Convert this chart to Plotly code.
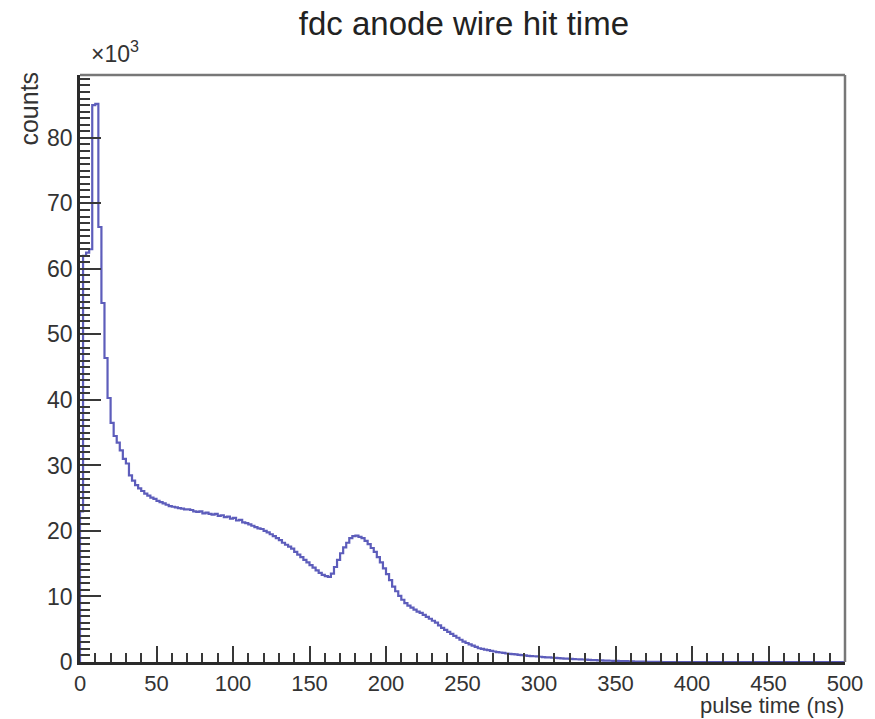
import plotly.graph_objects as go

# bin edges: 2 ns bins from 0 to 500 ns
bin_width = 2
n_bins = 250
bin_edges = [i * bin_width for i in range(n_bins + 1)]

# counts in units of 10^3, one value per 2 ns bin
counts_k = [
    23.0, 62.0, 62.5, 63.0, 85.0, 85.2, 66.4, 54.8, 46.4, 40.3,   # 0-20
    36.5, 34.5, 33.5, 32.3, 31.0, 30.3, 28.5, 27.7, 27.0, 26.5,   # 20-40
    26.1, 25.7, 25.4, 25.1, 24.9, 24.6, 24.4, 24.2, 24.0, 23.8,   # 40-60
    23.7, 23.6, 23.5, 23.4, 23.3, 23.3, 23.2, 23.0, 22.9, 23.0,   # 60-80
    22.7, 22.8, 22.6, 22.5, 22.6, 22.3, 22.4, 22.1, 22.2, 21.9,   # 80-100
    22.0, 21.6, 21.7, 21.3, 21.2, 21.0, 20.8, 20.6, 20.4, 20.3,   # 100-120
    20.0, 19.8, 19.5, 19.2, 18.9, 18.6, 18.2, 17.9, 17.6, 17.3,   # 120-140
    16.8, 16.4, 16.0, 15.6, 15.2, 14.8, 14.4, 14.0, 13.6, 13.3,   # 140-160
    13.1, 13.0, 13.5, 14.5, 15.6, 16.6, 17.5, 18.2, 18.9, 19.2,   # 160-180
    19.3, 19.1, 18.9, 18.5, 18.0, 17.4, 16.8, 16.0, 15.2, 14.3,   # 180-200
    13.4, 12.5, 11.5, 10.8, 10.1, 9.5, 9.0, 8.6, 8.3, 8.0,        # 200-220
    7.7, 7.5, 7.2, 6.9, 6.6, 6.3, 6.0, 5.6, 5.2, 4.9,             # 220-240
    4.6, 4.3, 4.0, 3.7, 3.4, 3.1, 2.9, 2.7, 2.5, 2.3,             # 240-260
    2.1, 2.0, 1.9, 1.8, 1.7, 1.6, 1.5, 1.45, 1.4, 1.3,            # 260-280
    1.25, 1.2, 1.15, 1.1, 1.05, 1.0, 0.95, 0.9, 0.88, 0.85,       # 280-300
    0.8, 0.75, 0.72, 0.7, 0.65, 0.62, 0.6, 0.55, 0.52, 0.5,       # 300-320
    0.48, 0.45, 0.42, 0.4, 0.38, 0.35, 0.33, 0.3, 0.28, 0.26,     # 320-340
    0.24, 0.22, 0.2, 0.19, 0.18, 0.16, 0.15, 0.14, 0.12, 0.1,     # 340-360
    0.09, 0.08, 0.07, 0.06, 0.05, 0.04, 0.03, 0.02, 0.01, 0.01,   # 360-380
    0, 0, 0, 0, 0, 0, 0, 0, 0, 0,                                 # 380-400
    0, 0, 0, 0, 0, 0, 0, 0, 0, 0,                                 # 400-420
    0, 0, 0, 0, 0, 0, 0, 0, 0, 0,                                 # 420-440
    0, 0, 0, 0, 0, 0, 0, 0, 0, 0,                                 # 440-460
    0, 0, 0, 0, 0, 0, 0, 0, 0, 0,                                 # 460-480
    0, 0, 0, 0, 0, 0, 0, 0, 0, 0,                                 # 480-500
]

x_ticks = [0, 50, 100, 150, 200, 250, 300, 350, 400, 450, 500]
y_ticks = [0, 10, 20, 30, 40, 50, 60, 70, 80]

title_text = "fdc anode wire hit time"
x_title = "pulse time (ns)"
y_title = "counts"

# step outline: start at zero on the first edge, end on the last edge
xs = [bin_edges[0]] + bin_edges
ys = [0] + counts_k + [counts_k[-1]]

FONT = "Liberation Sans, Arial, sans-serif"
LINE_COL = "#5d5dbb"
TXT = "#333333"
TICK = "#383838"

fig = go.Figure()
fig.add_trace(go.Scatter(
    x=xs, y=ys, mode="lines",
    line=dict(shape="hv", color=LINE_COL, width=2.2),
    hoverinfo="skip", showlegend=False,
))

fig.update_layout(
    width=875, height=719,
    margin=dict(l=80, r=27, t=75, b=57),
    paper_bgcolor="white", plot_bgcolor="white",
    font=dict(family=FONT, color=TXT, size=22),
    title=dict(text=title_text, x=0.5302, xanchor="center", y=0.968, yanchor="middle",
               font=dict(size=33, color="#222222", family=FONT)),
    showlegend=False,
)

fig.update_xaxes(
    range=[0, 500], tickvals=x_ticks, ticktext=[str(v) for v in x_ticks],
    ticks="inside", ticklen=16, tickwidth=2, tickcolor=TICK,
    minor=dict(dtick=10, tick0=0, ticks="inside", ticklen=9, tickwidth=2, tickcolor=TICK),
    showline=True, linecolor="#2a2a2a", linewidth=2.5, mirror=False,
    showgrid=False, zeroline=False,
    tickfont=dict(size=22, color=TXT, family=FONT),
)
fig.update_yaxes(
    range=[0, 89.6], tickvals=y_ticks, ticktext=[str(v) for v in y_ticks],
    ticks="inside", ticklen=21, tickwidth=2, tickcolor=TICK,
    minor=dict(dtick=1, tick0=0, ticks="inside", ticklen=10, tickwidth=2, tickcolor=TICK),
    showline=True, linecolor="#2a2a2a", linewidth=2.5, mirror=False,
    showgrid=False, zeroline=False,
    tickfont=dict(size=23, color=TXT, family=FONT),
)

# top / right frame
fig.add_shape(type="line", xref="paper", yref="paper", x0=0, x1=1, y0=1, y1=1,
              line=dict(color="#777777", width=2.5))
fig.add_shape(type="line", xref="paper", yref="paper", x0=1, x1=1, y0=0, y1=1,
              line=dict(color="#777777", width=2.5))

# axis titles and multiplier
fig.add_annotation(text=x_title, xref="paper", yref="paper", x=1.0, y=-0.097,
                   xanchor="right", yanchor="bottom", showarrow=False, borderpad=0,
                   font=dict(size=22, color=TXT, family=FONT))
fig.add_annotation(text=y_title, xref="paper", yref="paper", x=-0.087, y=1.01,
                   xanchor="left", yanchor="top", textangle=-90, showarrow=False,
                   font=dict(size=25, color=TXT, family=FONT))
fig.add_annotation(text="×10<sup>3</sup>", xref="paper", yref="paper", x=0.012, y=1.01,
                   xanchor="left", yanchor="bottom", showarrow=False,
                   font=dict(size=23, color=TXT, family=FONT))

fig.write_html("out.html")
